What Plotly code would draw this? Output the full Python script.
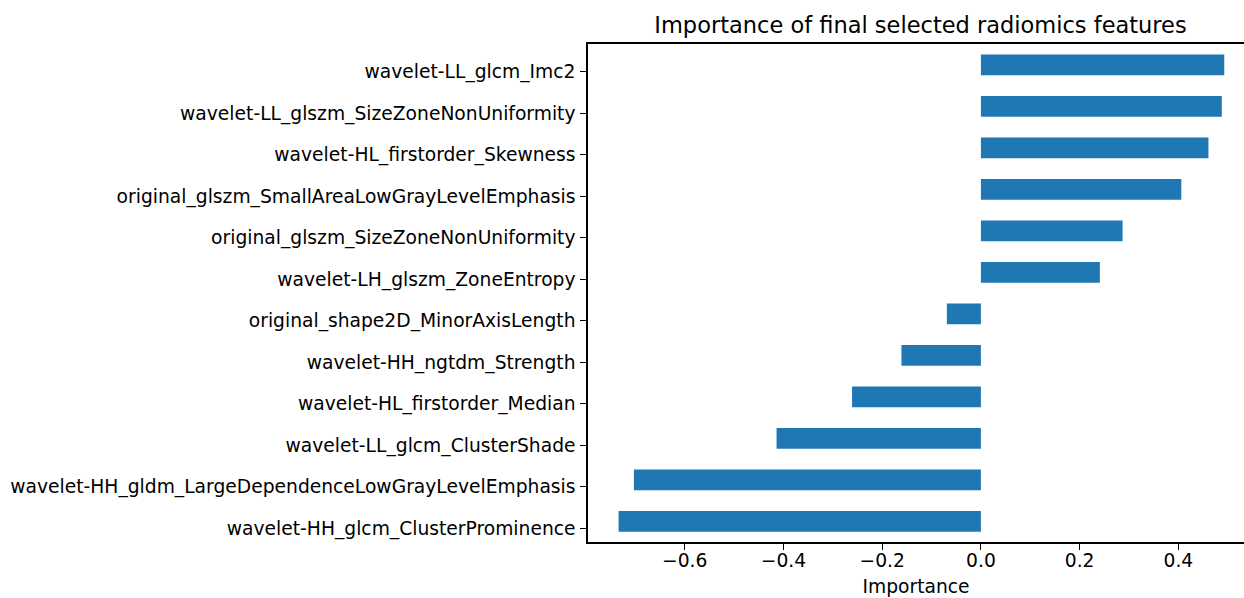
import plotly.graph_objects as go

features = [
    "wavelet-HH_glcm_ClusterProminence",
    "wavelet-HH_gldm_LargeDependenceLowGrayLevelEmphasis",
    "wavelet-LL_glcm_ClusterShade",
    "wavelet-HL_firstorder_Median",
    "wavelet-HH_ngtdm_Strength",
    "original_shape2D_MinorAxisLength",
    "wavelet-LH_glszm_ZoneEntropy",
    "original_glszm_SizeZoneNonUniformity",
    "original_glszm_SmallAreaLowGrayLevelEmphasis",
    "wavelet-HL_firstorder_Skewness",
    "wavelet-LL_glszm_SizeZoneNonUniformity",
    "wavelet-LL_glcm_Imc2",
]
importance = [-0.734, -0.703, -0.414, -0.261, -0.161, -0.069,
              0.241, 0.287, 0.406, 0.461, 0.488, 0.493]

tick_vals = [-0.6, -0.4, -0.2, 0.0, 0.2, 0.4]
tick_text = ["\u22120.6", "\u22120.4", "\u22120.2", "0.0", "0.2", "0.4"]

FONT = "DejaVu Sans"
FS = 18.7
YTICK_SHIFT = 0.17  # reference ticks/labels sit slightly below bar centres

positions = list(range(len(features)))

fig = go.Figure(go.Bar(
    x=importance, y=positions, orientation="h",
    width=0.5, marker=dict(color="#1f77b4", line=dict(width=0)),
))

fig.update_layout(
    width=1244, height=598,
    margin=dict(l=588, r=0, t=44, b=56),
    plot_bgcolor="white", paper_bgcolor="white",
    font=dict(family=FONT, size=FS, color="black"),
    showlegend=False,
    title=dict(text="Importance of final selected radiomics features",
               font=dict(family=FONT, size=22.5, color="black"),
               x=920.5 / 1244, xanchor="center", xref="container",
               y=1 - 25 / 598, yanchor="middle", yref="container"),
    xaxis=dict(range=[-0.796, 0.533], tickvals=tick_vals, ticktext=tick_text,
               showgrid=False, zeroline=False, showline=True, linecolor="black",
               linewidth=1.5, mirror=True, ticks="outside", ticklen=6,
               tickcolor="black", tickwidth=1.2, ticklabelstandoff=-5,
               title=dict(text="Importance", standoff=10,
                          font=dict(family=FONT, size=FS)),
               tickfont=dict(family=FONT, size=FS)),
    yaxis=dict(range=[-0.5, 11.5], tickvals=[p - YTICK_SHIFT for p in positions],
               ticktext=features, showgrid=False, zeroline=False,
               showline=True, linecolor="black", linewidth=1.5, mirror=False,
               ticks="outside", ticklen=6, tickcolor="black", tickwidth=1.2,
               ticklabelstandoff=1,
               tickfont=dict(family=FONT, size=FS)),
)

fig.write_html("out.html")
